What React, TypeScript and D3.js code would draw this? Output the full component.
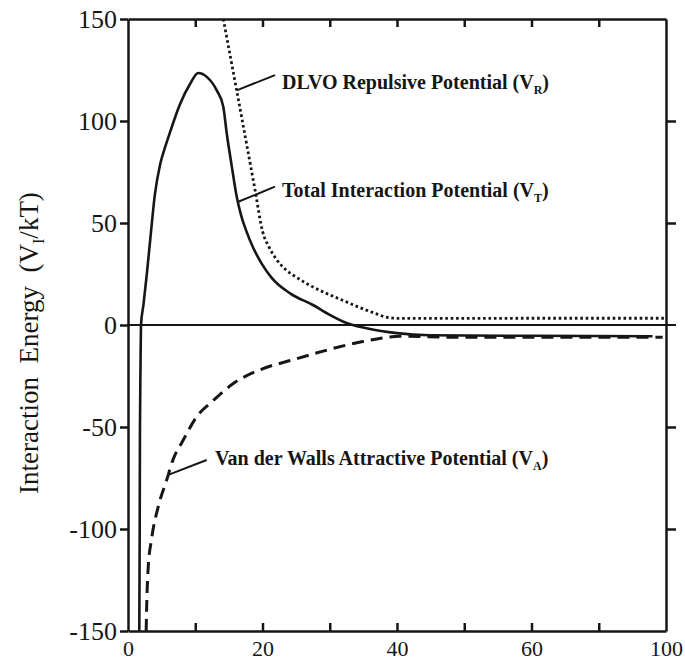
import { useEffect, useRef } from "react";
import * as d3 from "d3";

// axis ticks as printed on the figure (the right edge is labelled "100")
const xLabelValues = [0, 20, 40, 60, 80];
const xTickLabels = ["0", "20", "40", "60", "100"];
const xInnerTicks = [10, 20, 30, 40, 50, 60, 70];
const yTickValues = [150, 100, 50, 0, -50, -100, -150];
const yTickLabels = ["150", "100", "50", "0", "-50", "-100", "-150"];
const yRightTicks = [100, 50, -50, -100];

// Total interaction potential V_T (solid)
const vtSeparation = [1.68, 1.74, 1.78, 1.86, 1.93, 2.3, 2.8, 3.4, 4.0, 4.8, 5.6, 6.3, 7.7, 9.2, 10.45, 11.75, 13.2, 14.17, 14.68, 15.42, 16.16, 16.8, 17.6, 18.6, 19.9, 21.4, 24.1, 27.5, 30, 32.5, 35.5, 40, 44.9, 60, 78];
const vtEnergy = [-150, -100, -50, -20, 0, 10, 25, 45, 64, 79, 88, 95, 108, 118, 123.5, 121.5, 115, 107, 94, 78, 63, 54, 46, 38, 30, 23, 15.5, 9.8, 5, 1, -1.6, -4, -5, -5.3, -5.5];

// DLVO repulsive potential V_R (dotted)
const vrSeparation = [14.17, 16.16, 18.9, 20, 21, 22, 23.5, 25, 27, 29.5, 32, 34.5, 36.5, 38.5, 40.5, 60, 80];
const vrEnergy = [150, 115, 66, 46, 38, 32.5, 27, 23.5, 19.5, 15.5, 12, 8.5, 6, 3.8, 3.2, 3.3, 3.3];

// Van der Waals attractive potential V_A (dashed)
const vaSeparation = [2.7, 2.8, 3.0, 3.5, 4.5, 5.75, 6.7, 8.2, 10.2, 12.7, 15.7, 19.6, 24.6, 30.5, 36, 40.4, 48, 79.5];
const vaEnergy = [-150, -135, -119, -105, -89, -76, -66, -56.5, -45, -37, -28.6, -22, -17, -11.5, -7.4, -5.5, -6, -6];

// callouts: text, subscript, point on curve, elbow end, text start
const calloutText = ["DLVO Repulsive Potential (V", "Total Interaction Potential (V", "Van der Walls Attractive Potential (V"];
const calloutSub = ["R", "T", "A"];
const calloutFrom = [[16.16, 115], [16.4, 60.4], [5.99, -73.5]];
const calloutTo = [[21.86, 122.5], [21.86, 67.8], [11.7, -66.2]];
const calloutAt = [[22.9, 115.5], [22.9, 62.9], [12.94, -68.6]];

function App() {
  const svgRef = useRef(null);

  useEffect(() => {
    const svg = d3.select(svgRef.current);
    svg.selectAll("*").remove();

    const ink = "#161616";
    const serif = "Liberation Serif, Times New Roman, DejaVu Serif, serif";

    const x = d3.scaleLinear().domain([0, 80]).range([128, 666]);
    const y = d3.scaleLinear().domain([-150, 150]).range([631, 19]);

    svg.append("rect").attr("width", 685).attr("height", 661).attr("fill", "#fff");

    svg
      .append("clipPath")
      .attr("id", "plot-clip")
      .append("rect")
      .attr("x", x(0))
      .attr("y", y(150))
      .attr("width", x(80) - x(0))
      .attr("height", y(-150) - y(150));

    const styleAxis = (g, size) => {
      g.selectAll("path, line").attr("stroke", ink).attr("stroke-width", 2.5);
      g.selectAll("text")
        .style("font-family", serif)
        .attr("font-size", size)
        .attr("fill", ink);
    };

    // zero line (runs a little past the right axis)
    svg
      .append("line")
      .attr("x1", x(0))
      .attr("x2", x(80) + 10)
      .attr("y1", y(0))
      .attr("y2", y(0))
      .attr("stroke", ink)
      .attr("stroke-width", 2);

    // curves
    const lineGen = d3
      .line()
      .x((d) => x(d[0]))
      .y((d) => y(d[1]))
      .curve(d3.curveMonotoneX);

    const curves = [
      { xs: vaSeparation, ys: vaEnergy, width: 3, dash: "12 7" },
      { xs: vrSeparation, ys: vrEnergy, width: 2.8, dash: "2.6 2.8" },
      { xs: vtSeparation, ys: vtEnergy, width: 2.6, dash: null },
    ];

    svg
      .append("g")
      .attr("clip-path", "url(#plot-clip)")
      .selectAll("path")
      .data(curves)
      .join("path")
      .attr("d", (c) => lineGen(c.xs.map((v, i) => [v, c.ys[i]])))
      .attr("fill", "none")
      .attr("stroke", ink)
      .attr("stroke-width", (c) => c.width)
      .attr("stroke-dasharray", (c) => c.dash);

    // axes
    const left = svg
      .append("g")
      .attr("transform", `translate(${x(0)},0)`)
      .call(
        d3
          .axisLeft(y)
          .tickValues(yTickValues)
          .tickFormat((_, i) => yTickLabels[i])
          .tickSize(8)
          .tickSizeOuter(0)
          .tickPadding(3)
      );
    styleAxis(left, 26);

    const right = svg
      .append("g")
      .attr("transform", `translate(${x(80)},0)`)
      .call(d3.axisRight(y).tickValues(yRightTicks).tickFormat(() => "").tickSize(10).tickSizeOuter(0));
    styleAxis(right, 26);

    const top = svg
      .append("g")
      .attr("transform", `translate(0,${y(150)})`)
      .call(d3.axisTop(x).tickValues(xInnerTicks).tickFormat(() => "").tickSize(-8).tickSizeOuter(0));
    styleAxis(top, 26);

    const bottom = svg
      .append("g")
      .attr("transform", `translate(0,${y(-150)})`)
      .call(d3.axisBottom(x).tickValues(xInnerTicks).tickFormat(() => "").tickSize(-8).tickSizeOuter(0));
    styleAxis(bottom, 26);

    const bottomLabels = svg
      .append("g")
      .attr("transform", `translate(0,${y(-150)})`)
      .call(
        d3
          .axisBottom(x)
          .tickValues(xLabelValues)
          .tickFormat((_, i) => xTickLabels[i])
          .tickSize(0)
          .tickPadding(9)
      );
    bottomLabels.select(".domain").remove();
    styleAxis(bottomLabels, 22);

    // y axis title
    const title = svg
      .append("text")
      .attr("transform", "translate(38,343) rotate(-90)")
      .attr("text-anchor", "middle")
      .style("font-family", serif)
      .attr("font-size", 27)
      .attr("fill", ink)
      .style("white-space", "pre");
    title.append("tspan").text("Interaction  Energy  (V");
    title.append("tspan").attr("font-size", 16).attr("dy", 6).text("I");
    title.append("tspan").attr("dy", -6).text("/kT)");

    // callouts
    calloutText.forEach((t, i) => {
      svg
        .append("line")
        .attr("x1", x(calloutFrom[i][0]))
        .attr("y1", y(calloutFrom[i][1]))
        .attr("x2", x(calloutTo[i][0]))
        .attr("y2", y(calloutTo[i][1]))
        .attr("stroke", ink)
        .attr("stroke-width", 2);

      const label = svg
        .append("text")
        .attr("x", x(calloutAt[i][0]))
        .attr("y", y(calloutAt[i][1]))
        .style("font-family", serif)
        .attr("font-size", 20)
        .attr("font-weight", "bold")
        .attr("fill", ink);
      label.append("tspan").text(t);
      label.append("tspan").attr("font-size", 12).attr("dy", 5).text(calloutSub[i]);
      label.append("tspan").attr("dy", -5).text(")");
    });
  }, []);

  return (
    <svg
      ref={svgRef}
      width={685}
      height={661}
      style={{ position: "absolute", left: 0, top: 0, display: "block" }}
    />
  );
}

export default App;
